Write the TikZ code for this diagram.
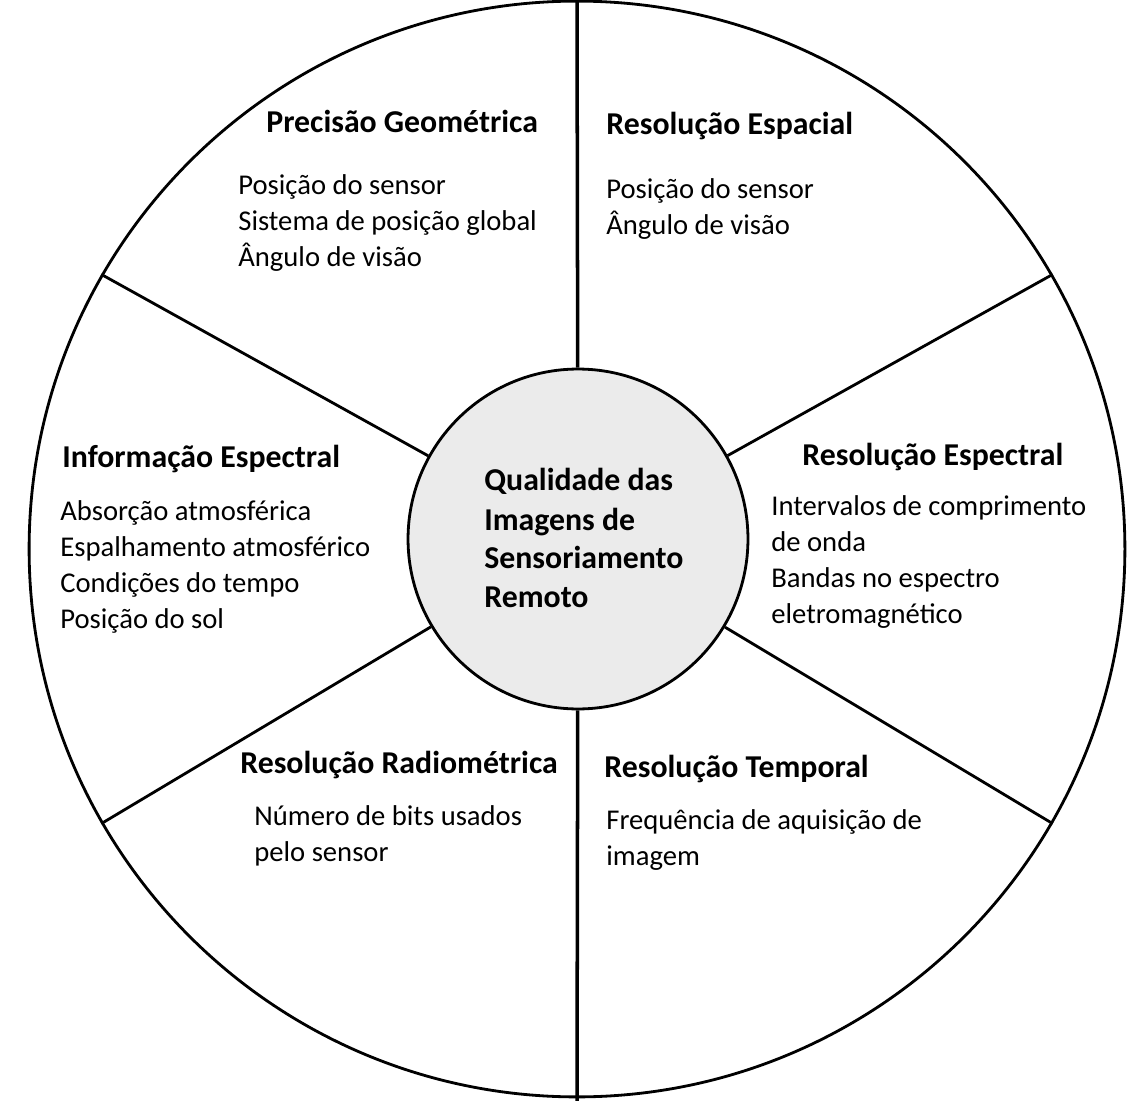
\documentclass[tikz,border=0pt]{standalone}
\usepackage{fontspec}
\setmainfont{Carlito}
\definecolor{hubfill}{RGB}{235,235,235}
\begin{document}
\begin{tikzpicture}[x=0.02cm,y=-0.02cm,
  rim/.style={circle, draw=black, line width=1.6pt, inner sep=0pt},
  spoke/.style={draw=black, line width=1.6pt},
  axis/.style={draw=black, line width=2pt},
  head/.style={anchor=base west, inner sep=0pt, font=\fontsize{18.1}{22}\selectfont\bfseries},
  item/.style={anchor=base west, inner sep=0pt, font=\fontsize{16.3}{20}\selectfont},
]
\useasboundingbox (0,0) rectangle (1135,1101);

% outer wheel and hub
\node[rim, minimum size=21.92cm] (ring) at (577,549) {};
\node[rim, fill=hubfill, minimum size=6.8cm] (hub) at (578,539) {};

% vertical axis through the wheel
\coordinate (topend) at (577,0);
\coordinate (botend) at (577,1101);
\draw[axis] (hub) -- (topend);
\draw[axis] (hub) -- (botend);

% oblique spokes
\draw[spoke] (ring.150) -- (hub);
\draw[spoke] (ring.30) -- (hub);
\draw[spoke] (ring.210) -- (hub);
\draw[spoke] (ring.330) -- (hub);

% hub caption
\node[head] (q1) at (484,490) {Qualidade das};
\node[head] (q2) at (484,530) {Imagens de};
\node[head] (q3) at (484,568) {Sensoriamento};
\node[head] (q4) at (484,607) {Remoto};

% upper left sector
\node[head] (pg) at (266,133) {Precisão Geométrica};
\node[item] (pg1) at (238,195) {Posição do sensor};
\node[item] (pg2) at (238,231) {Sistema de posição global};
\node[item] (pg3) at (238,267) {Ângulo de visão};

% upper right sector
\node[head] (re) at (606,135) {Resolução Espacial};
\node[item] (re1) at (606,199) {Posição do sensor};
\node[item] (re2) at (606,235) {Ângulo de visão};

% left sector
\node[head] (ie) at (62,467) {Informação Espectral};
\node[item] (ie1) at (60,520) {Absorção atmosférica};
\node[item] (ie2) at (60,556) {Espalhamento atmosférico};
\node[item] (ie3) at (60,592) {Condições do tempo};
\node[item] (ie4) at (60,628) {Posição do sol};

% right sector
\node[head] (rs) at (802,465) {Resolução Espectral};
\node[item] (rs1) at (771,515) {Intervalos de comprimento};
\node[item] (rs2) at (771,551) {de onda};
\node[item] (rs3) at (771,587) {Bandas no espectro};
\node[item] (rs4) at (771,623) {eletromagnético};

% lower left sector
\node[head] (rr) at (240,773) {Resolução Radiométrica};
\node[item] (rr1) at (254,825) {Número de bits usados};
\node[item] (rr2) at (254,861) {pelo sensor};

% lower right sector
\node[head] (rt) at (604,777) {Resolução Temporal};
\node[item] (rt1) at (606,829) {Frequência de aquisição de};
\node[item] (rt2) at (606,865) {imagem};
\end{tikzpicture}
\end{document}
